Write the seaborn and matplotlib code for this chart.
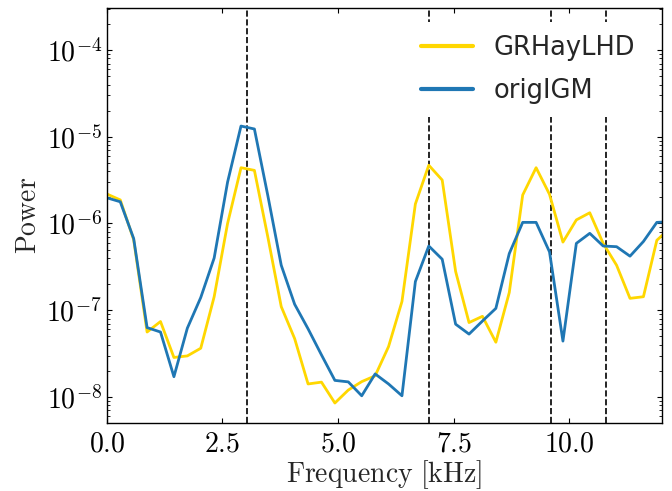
import numpy as np
import pandas as pd
import matplotlib
matplotlib.use("Agg")
import matplotlib.pyplot as plt
import matplotlib.ticker as mticker
import seaborn as sns

freq = [0.00, 0.29, 0.58, 0.87, 1.16, 1.45, 1.74, 2.03, 2.32, 2.61,
        2.90, 3.19, 3.48, 3.77, 4.06, 4.35, 4.64, 4.93, 5.22, 5.51,
        5.80, 6.09, 6.38, 6.67, 6.96, 7.25, 7.54, 7.83, 8.12, 8.41,
        8.70, 8.99, 9.28, 9.57, 9.86, 10.15, 10.44, 10.73, 11.02, 11.31,
        11.60, 11.89, 12.18]

grhaylhd = [2.19e-6, 1.87e-6, 6.5e-7, 5.6e-8, 7.4e-8, 2.85e-8, 2.97e-8, 3.64e-8, 1.43e-7, 1.0e-6,
            4.4e-6, 4.1e-6, 7.0e-7, 1.1e-7, 4.7e-8, 1.41e-8, 1.48e-8, 8.5e-9, 1.2e-8, 1.5e-8,
            1.75e-8, 3.8e-8, 1.26e-7, 1.68e-6, 4.7e-6, 3.17e-6, 2.8e-7, 7.2e-8, 8.5e-8, 4.27e-8,
            1.6e-7, 2.13e-6, 4.4e-6, 2.17e-6, 6.1e-7, 1.1e-6, 1.33e-6, 5.9e-7, 3.3e-7, 1.37e-7,
            1.43e-7, 6.4e-7, 8.9e-7]

origigm = [1.98e-6, 1.78e-6, 6.7e-7, 6.3e-8, 5.6e-8, 1.71e-8, 6.2e-8, 1.40e-7, 4.0e-7, 3.0e-6,
           1.33e-5, 1.23e-5, 2.1e-6, 3.3e-7, 1.17e-7, 6.1e-8, 3.05e-8, 1.55e-8, 1.49e-8, 1.03e-8,
           1.84e-8, 1.41e-8, 1.03e-8, 2.14e-7, 5.5e-7, 3.87e-7, 6.9e-8, 5.3e-8, 7.5e-8, 1.05e-7,
           4.5e-7, 1.03e-6, 1.03e-6, 4.7e-7, 4.4e-8, 5.9e-7, 7.7e-7, 5.5e-7, 5.4e-7, 4.2e-7,
           6.2e-7, 1.03e-6, 1.05e-6]

vlines = [3.04, 6.96, 9.61, 10.79]
xticks = [0.0, 2.5, 5.0, 7.5, 10.0]
series_names = ["GRHayLHD", "origIGM"]
colors = {"GRHayLHD": "#FFD700", "origIGM": "#1f77b4"}

df = pd.DataFrame({
    "freq": freq * 2,
    "power": grhaylhd + origigm,
    "series": [series_names[0]] * len(freq) + [series_names[1]] * len(freq),
})

sns.set_style("ticks")
plt.rcParams["mathtext.fontset"] = "cm"
plt.rcParams["font.family"] = ["DejaVu Sans"]

fig = plt.figure(figsize=(6.72, 4.91), dpi=100)
ax = fig.add_axes([0.159, 0.1385, 0.826, 0.845])

sns.lineplot(data=df, x="freq", y="power", hue="series", palette=colors,
             hue_order=series_names, linewidth=2.0, ax=ax, sort=False)

for v in vlines:
    ax.axvline(v, color="black", linestyle="--", linewidth=1.2, zorder=1)

ax.set_yscale("log")
ax.set_xlim(0, 12)
ax.set_ylim(5e-9, 3.05e-4)
ax.set_xticks(xticks)
ax.xaxis.set_major_formatter(mticker.FuncFormatter(lambda v, p: r"$%.1f$" % v))
ax.yaxis.set_major_locator(mticker.LogLocator(base=10, numticks=20))
ax.yaxis.set_minor_locator(mticker.LogLocator(base=10, subs=np.arange(2, 10) * 1.0, numticks=20))
ax.yaxis.set_minor_formatter(mticker.NullFormatter())
ax.yaxis.set_major_formatter(mticker.FuncFormatter(
    lambda v, p: r"$10^{%d}$" % int(round(np.log10(v)))))

ax.tick_params(axis="both", which="both", direction="in", top=True, right=True,
               labelsize=20, colors="black")
ax.tick_params(which="major", length=3.5, width=0.8)
ax.tick_params(which="minor", length=2, width=0.6)
ax.tick_params(axis="x", pad=4.5)

for s in ax.spines.values():
    s.set_linewidth(1.0)
    s.set_color("black")

ax.set_xlabel(r"$\mathrm{Frequency\ [kHz]}$", fontsize=20, labelpad=1)
ax.set_ylabel(r"$\mathrm{Power}$", fontsize=20, labelpad=3)

leg = ax.legend(loc="upper right", fontsize=18.5, frameon=True, framealpha=1.0,
                facecolor="white", edgecolor="none", borderaxespad=0.55,
                labelspacing=0.65, borderpad=0.5)
for line in leg.get_lines():
    line.set_linewidth(3)

fig.savefig("out.png", dpi=100)
